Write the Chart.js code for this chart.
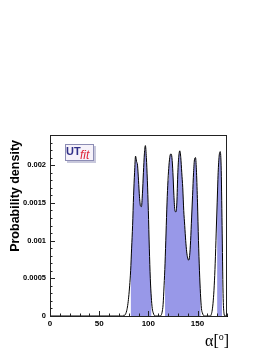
<!DOCTYPE html>
<html>
<head>
<meta charset="utf-8">
<script src="https://cdn.jsdelivr.net/npm/chart.js@4"></script>
<style>
  body { margin: 0; background: #fff; }
</style>
</head>
<body>
<canvas id="canvas1" width="273" height="353"></canvas>
<script>
// alpha in degrees, probability density
const alpha = [0,
  70, 71, 72, 73, 74, 75, 76, 77, 78, 79,
  80, 81, 82, 83, 84, 85, 86, 87, 88, 89,
  90, 91, 92, 93, 94, 95, 96, 97, 98, 99,
  100, 101, 102, 103, 104, 105, 106, 107, 108, 109,
  110, 111, 112, 113, 114, 115, 116, 117, 118, 119,
  120, 121, 122, 123, 124, 125, 126, 127, 128, 129,
  130, 131, 132, 133, 134, 135, 136, 137, 138, 139,
  140, 141, 142, 143, 144, 145, 146, 147, 148, 149,
  150, 151, 152, 153, 154, 155, 156, 157, 158, 159,
  160, 161, 162, 163, 164, 165, 166, 167, 168, 169,
  170, 171, 172, 173, 174, 175, 176, 177, 178, 179, 180];
const density = [0,
  0, 0, 0, 0, 0, 0.00001, 0.00001, 0.00003, 0.00007, 0.00014,
  0.00025, 0.0004, 0.0006, 0.0009, 0.0012, 0.0016, 0.0019, 0.00212, 0.00205, 0.002,
  0.0018, 0.00158, 0.00146, 0.00145, 0.00162, 0.0019, 0.00215, 0.00226, 0.0021, 0.0018,
  0.0014, 0.0009, 0.0005, 0.00025, 0.0001, 0.00004, 0.00001, 0, 0, 0,
  0, 0, 0, 0.00001, 0.00005, 0.00015, 0.0004, 0.0007, 0.0011, 0.0015,
  0.0018, 0.002, 0.00212, 0.00215, 0.0021, 0.0019, 0.0016, 0.0014, 0.00138, 0.0015,
  0.0019, 0.00212, 0.00219, 0.0021, 0.0019, 0.0017, 0.0014, 0.0012, 0.001, 0.00085,
  0.00077, 0.00074, 0.0008, 0.001, 0.0013, 0.0016, 0.0019, 0.00208, 0.0021, 0.0019,
  0.0015, 0.001, 0.0006, 0.0003, 0.0001, 0.00004, 0.00001, 0, 0, 0,
  0, 0, 0, 0, 0.00002, 0.00008, 0.0002, 0.0004, 0.0007, 0.0011,
  0.0015, 0.0019, 0.00212, 0.00218, 0.002, 0.0012, 0.0003, 0.00003, 0, 0, 0];
// shaded ranges (degrees)
const bands = [[82, 103], [117, 153], [170, 175]];

const xTickValues = [0, 50, 100, 150];
const xTickLabels = ['0', '50', '100', '150'];
const yTickValues = [0, 0.0005, 0.001, 0.0015, 0.002];
const yTickLabels = ['0', '0.0005', '0.001', '0.0015', '0.002'];

const linePts = alpha.map((a, i) => ({x: a, y: density[i]}));
const fillPts = [];
bands.forEach(b => {
  fillPts.push({x: b[0], y: 0});
  alpha.forEach((a, i) => { if (a >= b[0] && a <= b[1]) fillPts.push({x: a, y: density[i]}); });
  fillPts.push({x: b[1], y: 0});
});

const labelFor = (vals, labs) => v => {
  const k = vals.findIndex(t => Math.abs(t - v) < 1e-9);
  return k < 0 ? null : labs[k];
};

const decor = {
  id: 'decor',
  afterDraw(chart) {
    const c = chart.ctx, a = chart.chartArea, xs = chart.scales.x, ys = chart.scales.y;
    c.save();
    c.strokeStyle = '#222';
    c.lineWidth = 1;
    c.strokeRect(a.left + 0.5, a.top + 0.5, a.right - a.left - 1, a.bottom - a.top);
    // inward ticks
    c.beginPath();
    for (let v = 0; v <= 180; v += 10) {
      const px = Math.round(xs.getPixelForValue(v)) + 0.5;
      const len = v % 50 === 0 ? 5 : 2.5;
      c.moveTo(px, a.bottom); c.lineTo(px, a.bottom - len);
    }
    for (let k = 0; k <= 23; k++) {
      const py = Math.round(ys.getPixelForValue(k * 0.0001)) + 0.5;
      const len = k % 5 === 0 ? 5 : 2.5;
      c.moveTo(a.left, py); c.lineTo(a.left + len, py);
    }
    c.stroke();

    // axis titles
    c.fillStyle = '#000';
    c.font = 'bold 12.5px "Liberation Sans", Arial, sans-serif';
    c.translate(19, 140);
    c.rotate(-Math.PI / 2);
    c.textAlign = 'right';
    c.textBaseline = 'alphabetic';
    c.fillText('Probability density', 0, 0);
    c.setTransform(1, 0, 0, 1, 0, 0);
    c.font = '16px "Liberation Serif", serif';
    c.textAlign = 'left';
    c.fillText('α[', 205, 346);
    const w = c.measureText('α[').width;
    c.font = '10px "Liberation Serif", serif';
    c.fillText('o', 205 + w, 340);
    const w2 = c.measureText('o').width;
    c.font = '16px "Liberation Serif", serif';
    c.fillText(']', 205 + w + w2, 346);

    // logo
    c.fillStyle = '#c8c8dc';
    c.fillRect(67, 146, 29, 17);
    c.fillStyle = '#f6f2fa';
    c.fillRect(65, 144, 29, 17);
    c.strokeStyle = '#8c8cb4';
    c.strokeRect(65.5, 144.5, 28, 16);
    c.fillStyle = '#303088';
    c.font = 'bold 11px "Liberation Sans", Arial, sans-serif';
    c.fillText('UT', 66, 155);
    c.fillStyle = '#e0283a';
    c.font = 'italic 12px "Liberation Sans", Arial, sans-serif';
    c.fillText('fit', 80, 159);
    c.restore();
  }
};

new Chart(document.getElementById('canvas1'), {
  type: 'line',
  data: {
    datasets: [
      {
        data: linePts,
        borderColor: '#000',
        borderWidth: 1,
        pointRadius: 0,
        cubicInterpolationMode: 'monotone',
        fill: false,
        order: 0
      },
      {
        data: fillPts,
        borderWidth: 0,
        borderColor: 'rgba(0,0,0,0)',
        backgroundColor: '#9898e8',
        pointRadius: 0,
        fill: 'origin',
        order: 1
      }
    ]
  },
  options: {
    responsive: false,
    animation: false,
    layout: { padding: { top: 135, right: 46, left: 0, bottom: 0 } },
    plugins: { legend: { display: false }, tooltip: { enabled: false } },
    scales: {
      x: {
        type: 'linear', min: 0, max: 180,
        afterFit: s => { s.height = 37; },
        grid: { display: false, drawTicks: false },
        border: { display: true, color: '#000', width: 1 },
        ticks: {
          stepSize: 50, padding: 3, color: '#000', maxRotation: 0,
          font: { family: '"Liberation Sans", Arial, sans-serif', size: 8, weight: 'bold' },
          callback: labelFor(xTickValues, xTickLabels)
        }
      },
      y: {
        type: 'linear', min: 0, max: 0.0024,
        afterFit: s => { s.width = 50; },
        grid: { display: false, drawTicks: false },
        border: { display: true, color: '#000', width: 1 },
        ticks: {
          stepSize: 0.0005, padding: 4, color: '#000',
          font: { family: '"Liberation Sans", Arial, sans-serif', size: 7.5, weight: 'bold' },
          callback: labelFor(yTickValues, yTickLabels)
        }
      }
    }
  },
  plugins: [decor]
});
</script>
</body>
</html>
